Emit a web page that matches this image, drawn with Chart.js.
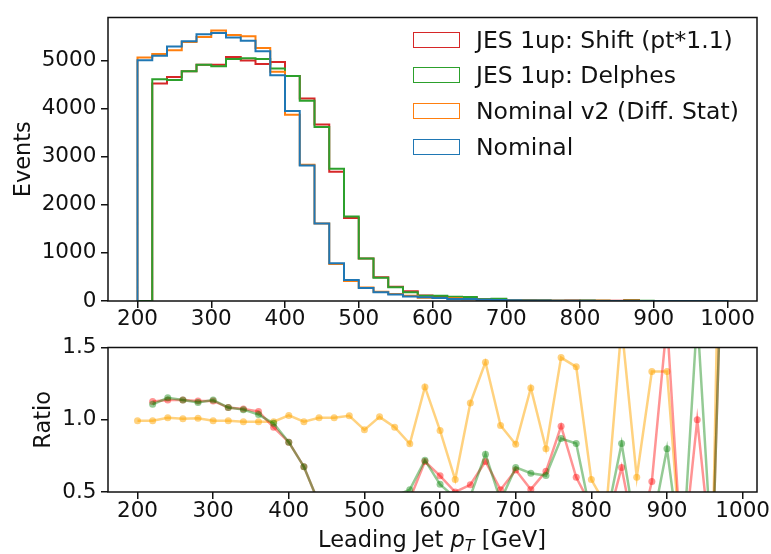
<!DOCTYPE html>
<html>
<head>
<meta charset="utf-8">
<script src="https://cdn.jsdelivr.net/npm/chart.js@4.4.1/dist/chart.umd.min.js"></script>
<style>
  body { margin: 0; background: #fff; font-family: "DejaVu Sans", sans-serif; }
  #wrap { position: relative; width: 771px; height: 554px; overflow: hidden; }
  canvas { position: absolute; left: 0; }
  #histCanvas { top: 0; }
  #ratioCanvas { top: 330px; }
  .legend-row { position: absolute; left: 413px; height: 30px; display: flex; align-items: center;
                white-space: nowrap; font-size: 23.5px; color: #111; }
  .legend-box { box-sizing: border-box; width: 47px; height: 16px; border: 1.5px solid; margin-right: 16px; }
  #xlabel { position: absolute; left: 432px; top: 528px; transform: translateX(-50%);
            font-size: 22.5px; line-height: 22.5px; white-space: nowrap; color: #111; }
  #xlabel .sub { position: relative; top: 4px; font-size: 16px; font-style: italic; }
</style>
</head>
<body>
<div id="wrap">
  <canvas id="histCanvas" width="771" height="330"></canvas>
  <canvas id="ratioCanvas" width="771" height="224"></canvas>
  <div id="legend"></div>
  <div id="xlabel">Leading Jet <i>p</i><span class="sub">T</span> [GeV]</div>
</div>
<script>
// bin edges of the leading jet pT histogram (GeV)
var binEdges = [200, 220, 240, 260, 280, 300, 320, 340, 360, 380, 400, 420, 440, 460, 480, 500,
                520, 540, 560, 580, 600, 620, 640, 660, 680, 700, 720, 740, 760, 780, 800,
                820, 840, 860, 880, 900, 920, 940, 960, 980, 1000];

// events per bin
var nominal    = [5000, 5097, 5285, 5399, 5540, 5567, 5473, 5406, 5191, 4688, 3950, 2817, 1610, 785, 436, 268,
                  181, 134, 94, 80, 60, 40, 40, 27, 20, 14, 10, 8, 6, 5, 3, 2, 2, 2, 1, 1, 0, 1, 0, 1];
var nominalV2  = [5057, 5131, 5211, 5379, 5486, 5620, 5527, 5500, 5258, 4762, 3870, 2830, 1610, 771, 416, 282,
                  190, 148, 110, 65, 62, 55, 36, 20, 21, 17, 8, 10, 4, 4, 5, 5, 1, 3, 1, 1, 1, 1, 1, 0];
var jesShift   = [0, 4520, 4652, 4775, 4909, 4909, 5070, 4997, 4923, 4963, 4675, 4205, 3669, 2683, 1724, 885,
                  496, 295, 201, 112, 98, 80, 72, 38, 39, 21, 19, 12, 6, 8, 7, 7, 3, 15, 2, 1, 1, 1, 1, 0];
var jesDelphes = [0, 4608, 4590, 4775, 4909, 4876, 5030, 5044, 5030, 4829, 4675, 4158, 3615, 2750, 1757, 885,
                  483, 285, 182, 111, 108, 87, 85, 35, 45, 21, 16, 13, 7, 6, 9, 6, 2, 10, 4, 1, 1, 1, 1, 0];

// ratio points, plotted at the lower bin edge
var ratioV2      = [0.993, 0.993, 1.014, 1.007, 1.011, 0.993, 0.993, 0.986, 0.986, 0.986,
                    1.03, 0.986, 1.014, 1.014, 1.027, 0.93, 1.02, 0.948, 0.834, 1.227,
                    0.925, 0.586, 1.116, 1.398, 0.96, 0.83, 1.22, 0.80, 1.43, 1.366,
                    0.586, 0.4, 1.65, 0.602, 1.334, 1.334, 0, 0, 0, 5.4];
var ratioShift   = [null, 1.127, 1.136, 1.136, 1.13, 1.13, 1.084, 1.075, 1.057, 0.948,
                    0.845, 0.675, 0.42, 0.3, 0.25, 0.3, 0.36, 0.42, 0.45, 0.711,
                    0.612, 0.5, 0.55, 0.711, 0.516, 0.652, 0.518, 0.643, 0.955, 0.602,
                    0.4, 0.27, 0.67, 0.13, 0.573, 1.68, 0, 1.0, 0, 3.5];
var ratioDelphes = [null, 1.107, 1.152, 1.136, 1.12, 1.136, 1.084, 1.07, 1.036, 0.975,
                    0.845, 0.675, 0.42, 0.3, 0.25, 0.3, 0.36, 0.47, 0.516, 0.72,
                    0.553, 0.46, 0.47, 0.762, 0.44, 0.67, 0.63, 0.614, 0.87, 0.836,
                    0.33, 0.32, 0.836, 0.2, 0.26, 0.8, 0, 1.72, 0, 3.5];

var seriesNames  = ['JES 1up: Shift (pt*1.1)', 'JES 1up: Delphes', 'Nominal v2 (Diff. Stat)', 'Nominal'];
var seriesColors = ['#d62728', '#2ca02c', '#ff7f0e', '#1f77b4'];

var xTicks     = [200, 300, 400, 500, 600, 700, 800, 900, 1000];
var eventTicks = [0, 1000, 2000, 3000, 4000, 5000];
var ratioTicks = [0.5, 1.0, 1.5];

var FONT = 'DejaVu Sans';
var INK = '#111';
Chart.defaults.font.family = FONT;

// outline of a step histogram
function stepPoints(counts) {
  var pts = [{x: binEdges[0], y: 0}];
  counts.forEach(function(c, i) {
    pts.push({x: binEdges[i], y: c});
    pts.push({x: binEdges[i + 1], y: c});
  });
  pts.push({x: binEdges[binEdges.length - 1], y: 0});
  return pts;
}

function fixTicks(values) {
  return function(scale) {
    scale.ticks = values.map(function(v) { return {value: v}; });
  };
}

function plain(v) { return String(v); }

var frame = {
  id: 'frame',
  afterDraw: function(chart) {
    var a = chart.chartArea, ctx = chart.ctx;
    ctx.save();
    ctx.strokeStyle = INK;
    ctx.lineWidth = 1.5;
    ctx.strokeRect(a.left, a.top, a.right - a.left, a.bottom - a.top);
    ctx.restore();
  }
};

function axisGrid() {
  return { drawOnChartArea: false, drawTicks: true, tickLength: 7, color: INK, lineWidth: 1.5 };
}

var histSeries = [jesShift, jesDelphes, nominalV2, nominal];

new Chart(document.getElementById('histCanvas'), {
  type: 'line',
  data: {
    datasets: histSeries.map(function(counts, i) {
      return {
        label: seriesNames[i],
        data: stepPoints(counts),
        borderColor: seriesColors[i],
        borderWidth: 2,
        pointRadius: 0,
        fill: false,
        clip: 0,
        order: histSeries.length - i
      };
    })
  },
  options: {
    responsive: false,
    animation: false,
    devicePixelRatio: 1,
    events: [],
    layout: { padding: { top: 8, right: 14, left: 0, bottom: 0 } },
    plugins: { legend: { display: false }, tooltip: { enabled: false } },
    scales: {
      x: {
        type: 'linear', min: 160, max: 1040,
        afterBuildTicks: fixTicks(xTicks),
        afterFit: function(s) { s.height = 29; },
        grid: axisGrid(), border: { display: false },
        ticks: { font: { size: 21.5 }, color: INK, padding: -1, maxRotation: 0, autoSkip: false, callback: plain }
      },
      y: {
        type: 'linear', min: 0, max: 5890,
        afterBuildTicks: fixTicks(eventTicks),
        afterFit: function(s) { s.width = 108; },
        grid: axisGrid(), border: { display: false },
        ticks: { font: { size: 21.5 }, color: INK, padding: 4.6, callback: plain },
        title: { display: true, text: 'Events', color: INK, font: { size: 22.5 }, padding: { top: 10.5, bottom: 0 } }
      }
    }
  },
  plugins: [frame]
});

var ratioSeries = [
  { values: ratioV2,      color: 'rgba(255,165,0,0.5)' },
  { values: ratioShift,   color: 'rgba(255,0,0,0.42)' },
  { values: ratioDelphes, color: 'rgba(0,128,0,0.42)' }
];
var ratioX = binEdges.slice(0, binEdges.length - 1);

new Chart(document.getElementById('ratioCanvas'), {
  type: 'line',
  data: {
    datasets: ratioSeries.map(function(s, i) {
      return {
        data: ratioX.map(function(x, j) { return {x: x, y: s.values[j]}; }),
        borderColor: s.color,
        backgroundColor: s.color,
        pointBackgroundColor: s.color,
        pointBorderWidth: 0,
        pointRadius: 3.5,
        borderWidth: 2.5,
        spanGaps: false,
        clip: 0,
        order: ratioSeries.length - i
      };
    })
  },
  options: {
    responsive: false,
    animation: false,
    devicePixelRatio: 1,
    events: [],
    layout: { padding: { top: 15, right: 14, left: 0, bottom: 0 } },
    plugins: { legend: { display: false }, tooltip: { enabled: false } },
    scales: {
      x: {
        type: 'linear', min: 161, max: 1019,
        afterBuildTicks: fixTicks(xTicks),
        afterFit: function(s) { s.height = 62; },
        grid: axisGrid(), border: { display: false },
        ticks: { font: { size: 21.5 }, color: INK, padding: 0, maxRotation: 0, autoSkip: false, callback: plain }
      },
      y: {
        type: 'linear', min: 0.5, max: 1.5,
        afterBuildTicks: fixTicks(ratioTicks),
        afterFit: function(s) { s.width = 108; },
        grid: axisGrid(), border: { display: false },
        ticks: { font: { size: 21.5 }, color: INK, padding: 4.6,
                 callback: function(v) { return v.toFixed(1); } },
        title: { display: true, text: 'Ratio', color: INK, font: { size: 22.5 }, padding: { top: 30.5, bottom: 0 } }
      }
    }
  },
  plugins: [frame]
});

// legend inside the upper panel
var legendEl = document.getElementById('legend');
var legendRowCentres = [39.5, 75.3, 111, 146.7];
seriesNames.forEach(function(name, i) {
  var row = document.createElement('div');
  row.className = 'legend-row';
  row.style.top = (legendRowCentres[i] - 15) + 'px';
  var box = document.createElement('span');
  box.className = 'legend-box';
  box.style.borderColor = seriesColors[i];
  var label = document.createElement('span');
  label.textContent = name;
  row.appendChild(box);
  row.appendChild(label);
  legendEl.appendChild(row);
});
</script>
</body>
</html>
